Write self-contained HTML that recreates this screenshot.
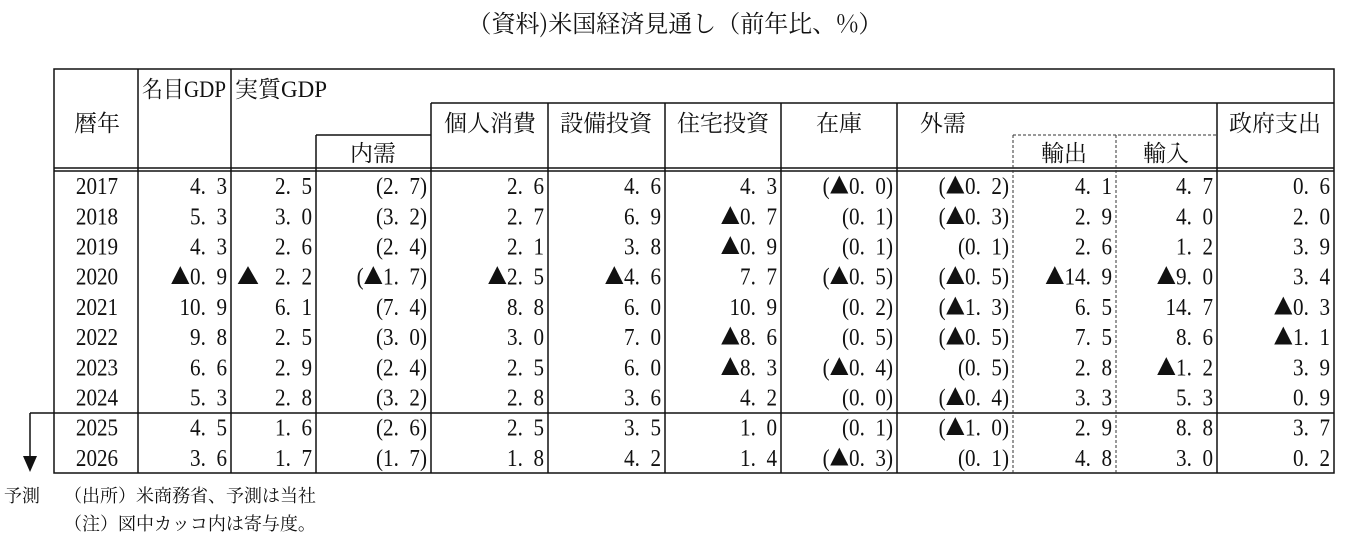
<!DOCTYPE html>
<html><head><meta charset="utf-8"><style>
html,body{margin:0;padding:0;background:#fff;}
svg text{font-family:"Liberation Serif","Noto Serif CJK JP",serif;fill:#111;}
.c{font-family:"Noto Serif CJK JP","Noto Serif CJK SC",serif;}
</style></head><body>
<svg width="1349" height="543" viewBox="0 0 1349 543" xmlns="http://www.w3.org/2000/svg">
<text x="675" y="32" font-size="24" text-anchor="middle" class="c" style="font-family:'Noto Serif CJK JP',serif">（資料)米国経済見通し（前年比、%）</text>
<g stroke="#111" stroke-width="1.5" fill="none">
<rect x="54" y="69" width="1280" height="404"/>
<line x1="138" y1="69" x2="138" y2="473"/>
<line x1="231" y1="69" x2="231" y2="473"/>
<line x1="316" y1="135" x2="316" y2="473"/>
<line x1="316" y1="135" x2="431" y2="135"/>
<line x1="431" y1="103" x2="1334" y2="103"/>
<line x1="431" y1="103" x2="431" y2="473"/>
<line x1="548" y1="103" x2="548" y2="473"/>
<line x1="665" y1="103" x2="665" y2="473"/>
<line x1="781" y1="103" x2="781" y2="473"/>
<line x1="897" y1="103" x2="897" y2="473"/>
<line x1="1217" y1="103" x2="1217" y2="473"/>
<line x1="54" y1="168" x2="1334" y2="168"/>
<line x1="54" y1="171" x2="1334" y2="171"/>
<line x1="30" y1="413" x2="1334" y2="413"/>
<line x1="30" y1="413" x2="30" y2="458"/>
</g>
<polygon points="23,456 37,456 30,472" fill="#111"/>
<g stroke="#333" stroke-width="1" stroke-dasharray="3,2" fill="none">
<line x1="1013" y1="135" x2="1217" y2="135"/>
<line x1="1013" y1="135" x2="1013" y2="473"/>
<line x1="1116" y1="135" x2="1116" y2="473"/>
</g>
<g font-size="23" style="font-family:'Noto Serif CJK JP','Noto Serif CJK SC',serif">
<text x="97" y="131" text-anchor="middle">暦年</text>
<text x="142" y="97" textLength="84" lengthAdjust="spacingAndGlyphs">名目GDP</text>
<text x="235" y="97" textLength="92" lengthAdjust="spacingAndGlyphs">実質GDP</text>
<text x="373" y="161" text-anchor="middle">内需</text>
<text x="490" y="131" text-anchor="middle">個人消費</text>
<text x="606" y="131" text-anchor="middle">設備投資</text>
<text x="723" y="131" text-anchor="middle">住宅投資</text>
<text x="839" y="131" text-anchor="middle">在庫</text>
<text x="920" y="131">外需</text>
<text x="1064" y="161" text-anchor="middle">輸出</text>
<text x="1166" y="161" text-anchor="middle">輸入</text>
<text x="1275" y="131" text-anchor="middle">政府支出</text>
</g>
<g font-size="24" id="rows"></g>
<g font-size="18" style="font-family:'Noto Serif CJK JP','Noto Serif CJK SC',serif">
<text x="4" y="502">予測</text>
<text x="64" y="502">（出所）米商務省、予測は当社</text>
<text x="64" y="530">（注）図中カッコ内は寄与度。</text>
</g>
</svg>
<script>
var d=[
["2017","4.3","2.5","(2.7)","2.6","4.6","4.3","(▲0.0)","(▲0.2)","4.1","4.7","0.6"],
["2018","5.3","3.0","(3.2)","2.7","6.9","▲0.7","(0.1)","(▲0.3)","2.9","4.0","2.0"],
["2019","4.3","2.6","(2.4)","2.1","3.8","▲0.9","(0.1)","(0.1)","2.6","1.2","3.9"],
["2020","▲0.9","2.2","(▲1.7)","▲2.5","▲4.6","7.7","(▲0.5)","(▲0.5)","▲14.9","▲9.0","3.4"],
["2021","10.9","6.1","(7.4)","8.8","6.0","10.9","(0.2)","(▲1.3)","6.5","14.7","▲0.3"],
["2022","9.8","2.5","(3.0)","3.0","7.0","▲8.6","(0.5)","(▲0.5)","7.5","8.6","▲1.1"],
["2023","6.6","2.9","(2.4)","2.5","6.0","▲8.3","(▲0.4)","(0.5)","2.8","▲1.2","3.9"],
["2024","5.3","2.8","(3.2)","2.8","3.6","4.2","(0.0)","(▲0.4)","3.3","5.3","0.9"],
["2025","4.5","1.6","(2.6)","2.5","3.5","1.0","(0.1)","(▲1.0)","2.9","8.8","3.7"],
["2026","3.6","1.7","(1.7)","1.8","4.2","1.4","(▲0.3)","(0.1)","4.8","3.0","0.2"]];
var R=[0,229,314,429,546,663,779,895,1011,1114,1215,1332];
var g=document.getElementById('rows'),h='';
function t(x,y,s,anchor){
  s=s.replace(/\./g,'.&#x2002;').replace(/▲/g,'<tspan class="c" font-size="22">▲</tspan>');
  return '<text transform="translate('+x+','+y+') scale(0.88,1)" text-anchor="'+anchor+'">'+s+'</text>';
}
d.forEach(function(r,i){var y=171+(i+0.5)*30.2+8;
h+=t(97,y,r[0],'middle');
for(var j=1;j<12;j++){h+=t(R[j]-2,y,r[j],'end');}
if(i==3)h+='<text x="237" y="'+y+'" class="c" font-size="22">▲</text>';
});
g.innerHTML=h;
</script>
</body></html>
